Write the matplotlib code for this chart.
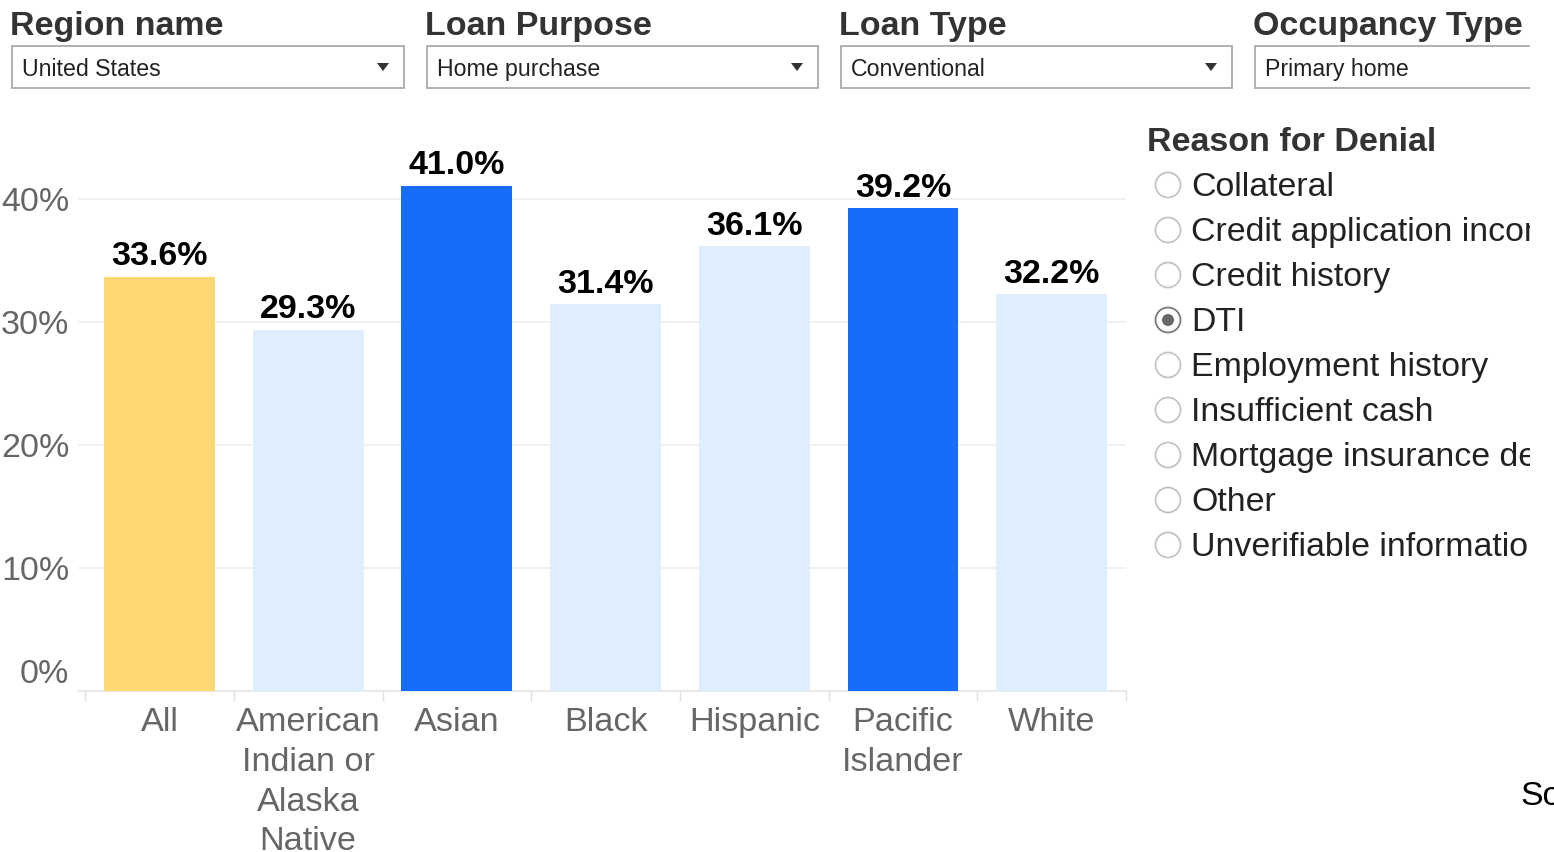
import numpy as np
import matplotlib
matplotlib.use("Agg")
import matplotlib.pyplot as plt
from matplotlib.patches import Rectangle, Circle, Polygon
from matplotlib.transforms import ScaledTranslation

plt.rcParams['font.family'] = ['Liberation Sans', 'DejaVu Sans']

# data
groups = ["All", "American\nIndian or\nAlaska\nNative", "Asian", "Black",
          "Hispanic", "Pacific\nIslander", "White"]
denial_rate = [33.6, 29.3, 41.0, 31.4, 36.1, 39.2, 32.2]
bar_colors = ["#FDD873", "#DFEEFC", "#166DF8", "#DFEEFC",
              "#DFEEFC", "#166DF8", "#DFEEFC"]
y_ticks = [0, 10, 20, 30, 40]

filter_titles = ["Region name", "Loan Purpose", "Loan Type", "Occupancy Type"]
filter_values = ["United States", "Home purchase", "Conventional", "Primary home"]
reasons = ["Collateral", "Credit application incomplete", "Credit history", "DTI",
           "Employment history", "Insufficient cash", "Mortgage insurance denied",
           "Other", "Unverifiable information"]
selected_reason = "DTI"

W, H = 1554, 853
fig = plt.figure(figsize=(W / 100, H / 100), dpi=100)

# main bar chart
ax = fig.add_axes([77.7 / W, 1 - 691.5 / H, 1048.3 / W, 553.5 / H])
x = np.arange(len(groups))
ax.bar(x, denial_rate, width=0.745, color=bar_colors, zorder=3)
for xi, v in zip(x, denial_rate):
    ax.annotate(f"{v:.1f}%", (xi, v), xytext=(0, 9.2), textcoords="offset points",
                ha="center", va="baseline", fontsize=24.5, fontweight="bold",
                color="black", zorder=5)

ax.set_xlim(-0.55, len(groups) - 0.5)
ax.set_ylim(0, 45)
ax.set_yticks(y_ticks)
ax.set_yticklabels([f"{t}%" for t in y_ticks])
ax.set_xticks(x)
ax.set_xticklabels(groups, linespacing=1.36, va="top")
ax.set_xticks(np.arange(-0.5, len(groups)), minor=True)
ax.tick_params(axis="x", which="major", length=0, pad=11.5, labelsize=24.7, labelcolor="#666666")
ax.tick_params(axis="x", which="minor", length=7.5, width=1, color="#e0e0e0", direction="out")
ax.tick_params(axis="y", length=0, pad=6, labelsize=24.5, labelcolor="#666666")
# bottom label sits a bit above the baseline
lab0 = ax.get_yticklabels()[0]
lab0.set_transform(lab0.get_transform() + ScaledTranslation(0, 0.2, fig.dpi_scale_trans))

ax.grid(True, axis="y", color="#eeeeee", linewidth=1.2, zorder=0)
for s in ["top", "right", "left"]:
    ax.spines[s].set_visible(False)
ax.spines["bottom"].set_color("#e6e6e6")
ax.spines["bottom"].set_linewidth(1.2)

# overlay with controls (pixel coordinates)
ov = fig.add_axes([0, 0, 1530 / W, 1])
ov.set_xlim(0, 1530)
ov.set_ylim(H, 0)
ov.axis("off")
ov.patch.set_visible(False)

box_x = [12, 427, 841, 1255]
box_w = [392, 391, 391, 320]
for bx, bw, title, val in zip(box_x, box_w, filter_titles, filter_values):
    ov.text(bx - 2, 35, title, fontsize=24.5, fontweight="bold", color="#333333", va="baseline")
    ov.add_patch(Rectangle((bx, 47), bw, 42, facecolor="white", edgecolor="#aaaaaa", linewidth=1.3))
    ov.text(bx + 10, 76, val, fontsize=16.7, color="#222222", va="baseline", clip_on=True)
    if bx + bw < 1530:
        tx = bx + bw - 21
        ov.add_patch(Polygon([[tx - 6, 64], [tx + 6, 64], [tx, 72]], closed=True,
                             facecolor="#333333", edgecolor="none"))

ov.text(1147, 151, "Reason for Denial", fontsize=24.5, fontweight="bold", color="#333333", va="baseline")
for i, r in enumerate(reasons):
    cy = 186 + 45 * i
    sel = r == selected_reason
    ov.add_patch(Circle((1168, cy), 12.5, facecolor="white",
                        edgecolor="#7a7a7a" if sel else "#c4c4c4", linewidth=1.3))
    if sel:
        ov.add_patch(Circle((1168, cy), 6, facecolor="#666666", edgecolor="none"))
    ov.text(1191, cy + 10, r, fontsize=24.4, color="#222222", va="baseline", clip_on=True)

ov.text(1520, 805, "Source", fontsize=24.4, color="black", va="baseline", clip_on=False)

fig.savefig("out.png", dpi=100)
